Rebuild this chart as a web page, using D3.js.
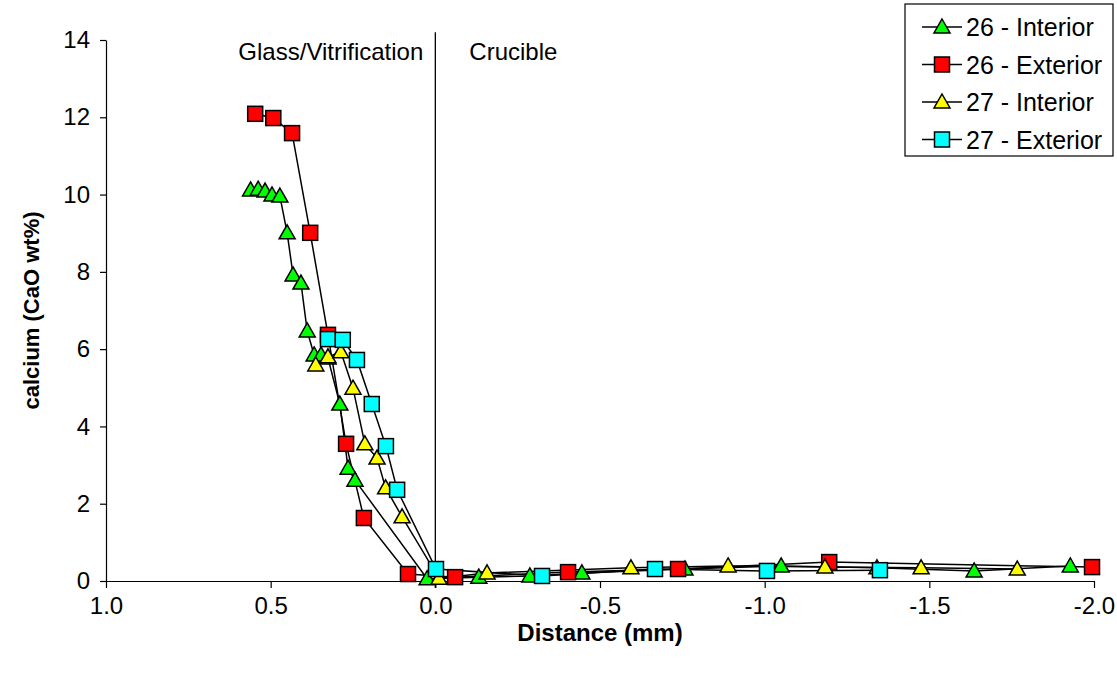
<!DOCTYPE html>
<html>
<head>
	<meta charset="utf-8">
	<script src="https://cdn.jsdelivr.net/npm/d3@7"></script>
	<style>
		body { margin: 0; background: #fff; }
		svg { font-family: "Liberation Sans", Arial, sans-serif; }
		.axis text { font-size: 24px; fill: #000; }
		.axis path, .axis line { stroke: #000; stroke-width: 1.2; }
		.line { fill: none; stroke: #000; stroke-width: 1.5; }
	</style>
</head>
<body>
	<svg></svg>
	<script>
		// series values: [distance mm, CaO wt%]
		var interior26 = [[0.561, 10.12], [0.538, 10.14], [0.517, 10.09], [0.496, 9.99], [0.472, 9.96], [0.450, 9.01],
			[0.432, 7.92], [0.408, 7.71], [0.389, 6.47], [0.368, 5.85], [0.347, 5.85], [0.326, 5.77], [0.290, 4.58],
			[0.265, 2.92], [0.244, 2.61], [0.025, 0.06], [-0.132, 0.10], [-0.287, 0.13], [-0.445, 0.21], [-0.758, 0.31],
			[-1.050, 0.39], [-1.341, 0.34], [-1.636, 0.26], [-1.928, 0.39]];
		var exterior26 = [[0.547, 12.09], [0.492, 11.98], [0.435, 11.59], [0.380, 9.01], [0.326, 6.37], [0.271, 3.55],
			[0.217, 1.63], [0.083, 0.18], [-0.060, 0.10], [-0.403, 0.23], [-0.737, 0.31], [-1.196, 0.49], [-1.994, 0.36]];
		var interior27 = [[0.363, 5.59], [0.326, 5.80], [0.287, 5.93], [0.250, 4.99], [0.214, 3.55], [0.177, 3.18],
			[0.151, 2.41], [0.101, 1.66], [-0.011, 0.07], [-0.157, 0.21], [-0.594, 0.34], [-0.889, 0.39], [-1.183, 0.36],
			[-1.475, 0.34], [-1.767, 0.31]];
		var exterior27 = [[0.326, 6.26], [0.281, 6.24], [0.238, 5.72], [0.193, 4.58], [0.150, 3.49], [0.116, 2.36],
			[-0.002, 0.31], [-0.324, 0.13], [-0.667, 0.31], [-1.007, 0.26], [-1.350, 0.28]];

		var seriesNames = ["26 - Interior", "26 - Exterior", "27 - Interior", "27 - Exterior"];
		var seriesData = [interior26, exterior26, interior27, exterior27];
		var seriesColors = ["#00ff00", "#ff0000", "#ffff00", "#00ffff"];
		var seriesShapes = ["triangle", "square", "triangle", "square"];

		var xTicks = [1.0, 0.5, 0.0, -0.5, -1.0, -1.5, -2.0];
		var yTicks = [0, 2, 4, 6, 8, 10, 12, 14];
		var regionLabels = ["Glass/Vitrification", "Crucible"];

		var width = 1117, height = 673;
		var margins = { "left": 106, "right": 23, "top": 40, "bottom": 92 };

		var svg = d3.select("svg")
			.attr("width", width)
			.attr("height", height);

		var x = d3.scaleLinear()
			.domain([1, -2])
			.range([margins.left, width - margins.right]);
		var y = d3.scaleLinear()
			.domain([0, 14])
			.range([height - margins.bottom, margins.top]);

		// axes
		svg.append("g")
			.attr("class", "axis")
			.attr("transform", "translate(0," + y(0) + ")")
			.call(d3.axisBottom(x).tickValues(xTicks).tickSizeInner(7).tickSizeOuter(0).tickPadding(9)
				.tickFormat(d => d.toFixed(1)));
		svg.append("g")
			.attr("class", "axis")
			.attr("transform", "translate(" + x(1) + ",0)")
			.call(d3.axisLeft(y).tickValues(yTicks).tickSizeInner(6).tickSizeOuter(0).tickPadding(10));

		// axis titles
		svg.append("text")
			.attr("x", (x(1) + x(-2)) / 2)
			.attr("y", 641)
			.attr("text-anchor", "middle")
			.attr("font-weight", "bold")
			.attr("font-size", 24)
			.text("Distance (mm)");
		svg.append("text")
			.attr("transform", "translate(39," + y(7) + ") rotate(-90)")
			.attr("text-anchor", "middle")
			.attr("font-weight", "bold")
			.attr("font-size", 22)
			.text("calcium (CaO wt%)");

		// divider at zero
		svg.append("line")
			.attr("x1", x(0)).attr("x2", x(0))
			.attr("y1", y(14.2)).attr("y2", y(0) + 7)
			.attr("stroke", "#000")
			.attr("stroke-width", 1.3);
		svg.append("text")
			.attr("x", x(0) - 12)
			.attr("y", 60)
			.attr("text-anchor", "end")
			.attr("font-size", 24)
			.text(regionLabels[0]);
		svg.append("text")
			.attr("x", x(0) + 34)
			.attr("y", 60)
			.attr("font-size", 24)
			.text(regionLabels[1]);

		var line = d3.line()
			.x(d => x(d[0]))
			.y(d => y(d[1]));

		function drawMarker(g, shape, color, cx, cy) {
			if (shape === "square") {
				g.append("rect")
					.attr("x", cx - 7.5).attr("y", cy - 7.5)
					.attr("width", 15).attr("height", 15)
					.attr("fill", color)
					.attr("stroke", "#000")
					.attr("stroke-width", 1.5);
			} else {
				g.append("path")
					.attr("d", "M0,-8L8,6L-8,6Z")
					.attr("transform", "translate(" + cx + "," + cy + ")")
					.attr("fill", color)
					.attr("stroke", "#000")
					.attr("stroke-width", 1.5);
			}
		}

		// lines first, then markers
		seriesData.forEach(function (data) {
			svg.append("path")
				.attr("class", "line")
				.attr("d", line(data));
		});
		seriesData.forEach(function (data, i) {
			var g = svg.append("g");
			data.forEach(d => drawMarker(g, seriesShapes[i], seriesColors[i], x(d[0]), y(d[1])));
		});

		// legend
		var legend = svg.append("g")
			.attr("transform", "translate(905,4)");
		legend.append("rect")
			.attr("width", 208)
			.attr("height", 152)
			.attr("fill", "#fff")
			.attr("stroke", "#000")
			.attr("stroke-width", 1.2);
		seriesNames.forEach(function (name, i) {
			var cy = 23 + i * 37.5;
			legend.append("line")
				.attr("x1", 17).attr("x2", 57)
				.attr("y1", cy).attr("y2", cy)
				.attr("stroke", "#000")
				.attr("stroke-width", 1.5);
			drawMarker(legend, seriesShapes[i], seriesColors[i], 37, cy);
			legend.append("text")
				.attr("x", 61)
				.attr("y", cy + 9)
				.attr("font-size", 25)
				.text(name);
		});
	</script>
</body>
</html>
